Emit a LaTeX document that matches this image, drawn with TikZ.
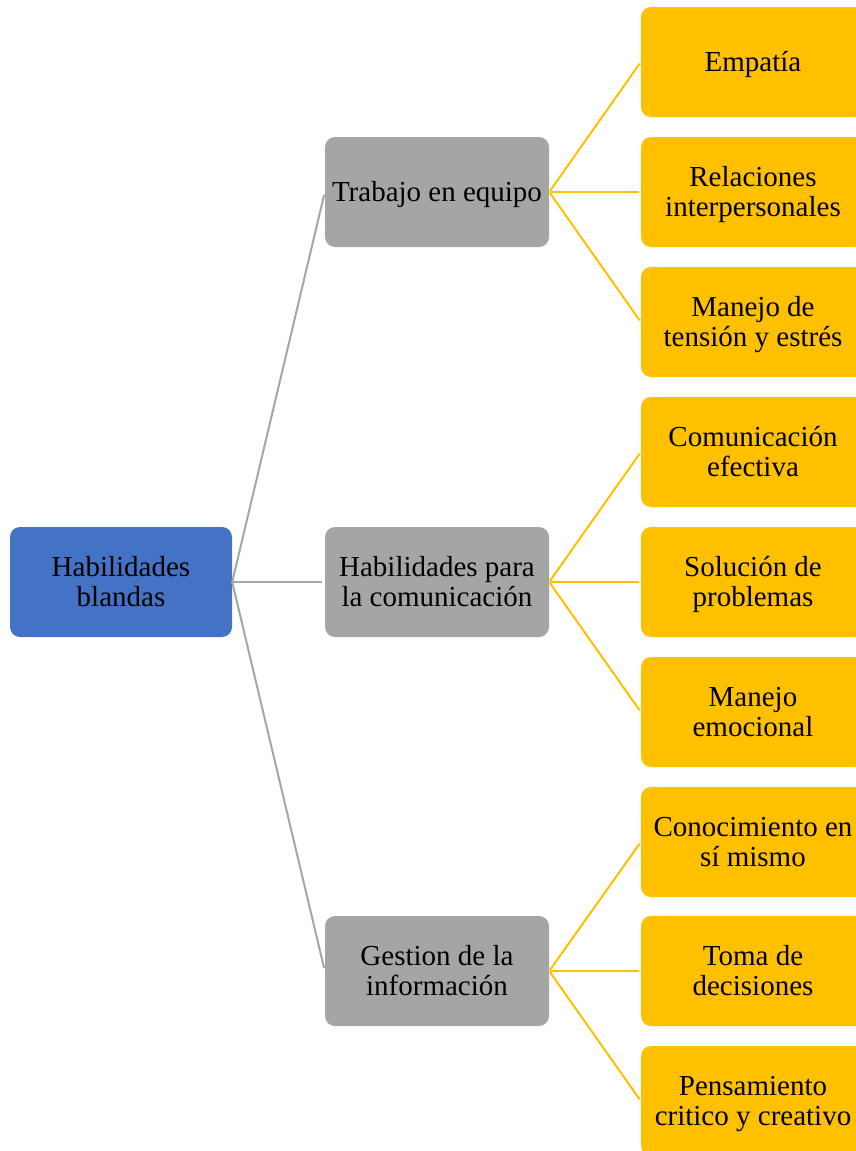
\documentclass[tikz,border=0pt]{standalone}
\usepackage{fontspec}
\setmainfont{Liberation Serif}
\definecolor{rootblue}{HTML}{4472C4}
\definecolor{midgray}{HTML}{A5A5A5}
\definecolor{leaforange}{HTML}{FFC000}
\newcommand{\boxtxt}[1]{\parbox[c][110pt][c]{222pt}{\centering\vspace*{6pt}\strut#1\strut\par}}
\tikzset{
  box/.style={rounded corners=10pt, minimum width=224pt, minimum height=110pt, inner sep=0pt, text=black, font=\fontsize{29}{30}\selectfont},
  rootbox/.style={box, fill=rootblue, minimum width=222pt},
  midbox/.style={box, fill=midgray},
  leafbox/.style={box, fill=leaforange},
  grayline/.style={draw=midgray, line width=2pt, shorten >=3pt},
  orangeline/.style={draw=leaforange, line width=2pt, shorten <=1pt, shorten >=2pt},
}
\begin{document}
\begin{tikzpicture}[x=1pt,y=-1pt]
\useasboundingbox (0,0) rectangle (856,1151);
\clip (0,0) rectangle (856,1151);
\node[rootbox] (root) at (121,582) {\boxtxt{Habilidades\\blandas}};
\node[midbox] (m1) at (437,192) {\boxtxt{Trabajo en equipo}};
\node[midbox] (m2) at (437,582) {\boxtxt{Habilidades para\\la comunicación}};
\node[midbox] (m3) at (437,971) {\boxtxt{Gestion de la\\información}};
\node[leafbox] (l1) at (753,62) {\boxtxt{Empatía}};
\node[leafbox] (l2) at (753,192) {\boxtxt{Relaciones\\interpersonales}};
\node[leafbox] (l3) at (753,322) {\boxtxt{Manejo de\\tensión y estrés}};
\node[leafbox] (l4) at (753,452) {\boxtxt{Comunicación\\efectiva}};
\node[leafbox] (l5) at (753,582) {\boxtxt{Solución de\\problemas}};
\node[leafbox] (l6) at (753,712) {\boxtxt{Manejo\\emocional}};
\node[leafbox] (l7) at (753,842) {\boxtxt{Conocimiento en\\sí mismo}};
\node[leafbox] (l8) at (753,971) {\boxtxt{Toma de\\decisiones}};
\node[leafbox] (l9) at (753,1101) {\boxtxt{Pensamiento\\critico y creativo}};
\foreach \m in {m1,m2,m3} \draw[grayline] (root.east) -- (\m.west);
\foreach \l in {l1,l2,l3} \draw[orangeline] (m1.east) -- (\l.west);
\foreach \l in {l4,l5,l6} \draw[orangeline] (m2.east) -- (\l.west);
\foreach \l in {l7,l8,l9} \draw[orangeline] (m3.east) -- (\l.west);
\end{tikzpicture}
\end{document}
